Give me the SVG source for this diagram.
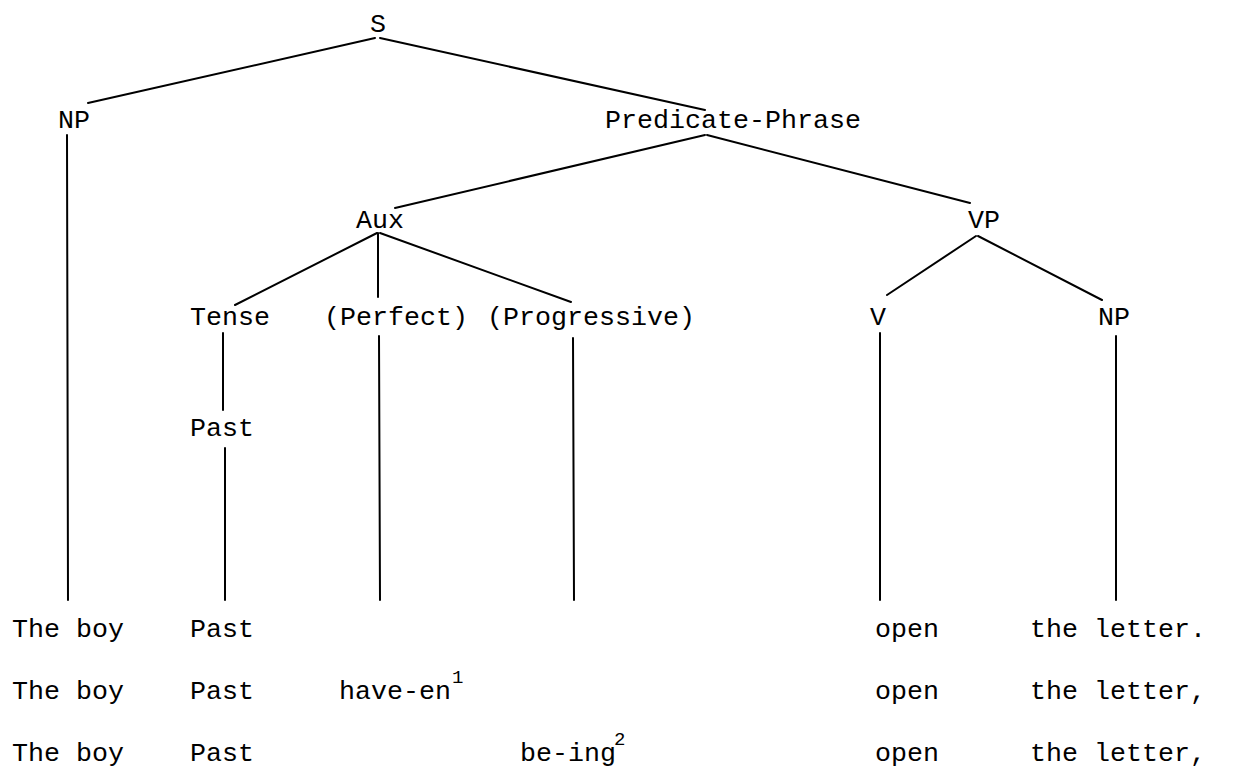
<svg xmlns="http://www.w3.org/2000/svg" width="1242" height="775" viewBox="0 0 1242 775">
<style>
text{font-family:"Liberation Mono","DejaVu Sans Mono",monospace;font-size:26.67px;fill:#000}
.sup{font-size:19px}
line{stroke:#000;stroke-width:2;stroke-linecap:round}
</style>
<rect width="1242" height="775" fill="#fff"/>
<g id="connectors">
<line x1="375" y1="38" x2="88" y2="103"/>
<line x1="380" y1="38" x2="705" y2="110"/>
<line x1="67" y1="135" x2="68" y2="600"/>
<line x1="705" y1="135" x2="395" y2="208"/>
<line x1="707" y1="135" x2="970" y2="203"/>
<line x1="377" y1="233" x2="235" y2="305"/>
<line x1="378" y1="233" x2="378" y2="297"/>
<line x1="380" y1="233" x2="571" y2="302"/>
<line x1="976" y1="236" x2="887" y2="295"/>
<line x1="978" y1="236" x2="1102" y2="300"/>
<line x1="223" y1="333" x2="223" y2="410"/>
<line x1="225" y1="448" x2="225" y2="600"/>
<line x1="379" y1="336" x2="380" y2="600"/>
<line x1="573" y1="338" x2="574" y2="600"/>
<line x1="880" y1="333" x2="880" y2="600"/>
<line x1="1116" y1="336" x2="1116" y2="600"/>
</g>
<g id="node-S"><text x="378" y="32" text-anchor="middle">S</text></g>
<g id="node-NP1"><text x="74" y="128" text-anchor="middle">NP</text></g>
<g id="node-PredicatePhrase"><text x="605" y="128">Predicate-Phrase</text></g>
<g id="node-Aux"><text x="380" y="228" text-anchor="middle">Aux</text></g>
<g id="node-VP"><text x="984" y="228" text-anchor="middle">VP</text></g>
<g id="node-Tense"><text x="190" y="325">Tense</text></g>
<g id="node-Perfect"><text x="324" y="325">(Perfect)</text></g>
<g id="node-Progressive"><text x="487" y="325">(Progressive)</text></g>
<g id="node-V"><text x="878" y="325" text-anchor="middle">V</text></g>
<g id="node-NP2"><text x="1114" y="325" text-anchor="middle">NP</text></g>
<g id="node-Past"><text x="190" y="436">Past</text></g>
<g id="row1">
<text x="12" y="637">The boy</text><text x="190" y="637">Past</text><text x="875" y="637">open</text><text x="1030" y="637">the letter.</text>
</g>
<g id="row2">
<text x="12" y="699">The boy</text><text x="190" y="699">Past</text><text x="339" y="699">have-en</text><text class="sup" x="452" y="683">1</text><text x="875" y="699">open</text><text x="1030" y="699">the letter,</text>
</g>
<g id="row3">
<text x="12" y="761">The boy</text><text x="190" y="761">Past</text><text x="520" y="761">be-ing</text><text class="sup" x="614" y="745">2</text><text x="875" y="761">open</text><text x="1030" y="761">the letter,</text>
</g>
</svg>
